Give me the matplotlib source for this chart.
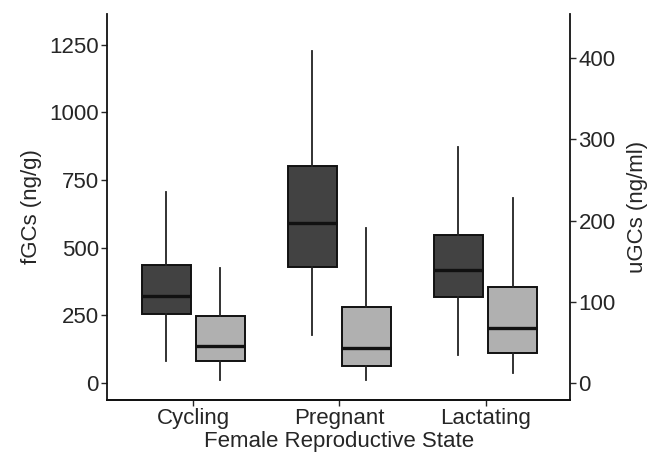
import matplotlib
matplotlib.use("Agg")
import matplotlib.pyplot as plt

plt.rcParams["font.family"] = ["Liberation Sans", "DejaVu Sans"]

categories = ["Cycling", "Pregnant", "Lactating"]

# fGCs (ng/g) - left axis: whisker low, q1, median, q3, whisker high
fgc_whislo = [81, 178, 104]
fgc_q1 = [255, 429, 318]
fgc_med = [322, 592, 418]
fgc_q3 = [436, 802, 547]
fgc_whishi = [706, 1228, 873]

# uGCs (ng/ml) - right axis
ugc_whislo = [4, 4, 12]
ugc_q1 = [27, 21, 37]
ugc_med = [46, 43, 67]
ugc_q3 = [83, 93, 118]
ugc_whishi = [142, 191, 228]

def stats(lo, q1, med, q3, hi):
    return [dict(whislo=a, q1=b, med=c, q3=d, whishi=e, fliers=[])
            for a, b, c, d, e in zip(lo, q1, med, q3, hi)]

txt = "#262626"
fs = 16
fig = plt.figure(figsize=(6.57, 4.57), dpi=100)
ax = fig.add_axes([0.163, 0.125, 0.705, 0.845])
ax2 = ax.twinx()

pos = list(range(1, len(categories) + 1))
off = 0.185
w = 0.336

def draw(a, st, positions, color):
    a.bxp(st, positions=positions, widths=w, patch_artist=True, showcaps=False,
          boxprops=dict(facecolor=color, edgecolor="#111111", linewidth=1.4),
          medianprops=dict(color="#111111", linewidth=2.4),
          whiskerprops=dict(color="#222222", linewidth=1.3),
          manage_ticks=False)

draw(ax, stats(fgc_whislo, fgc_q1, fgc_med, fgc_q3, fgc_whishi),
     [p - off for p in pos], "#424242")
draw(ax2, stats(ugc_whislo, ugc_q1, ugc_med, ugc_q3, ugc_whishi),
     [p + off for p in pos], "#b0b0b0")

ax.set_xlim(0.41, 3.58)
ax.set_ylim(-63, 1365)
ax2.set_ylim(-21, 455)
ax.set_xticks(pos)
ax.set_xticklabels(categories)
ax.set_yticks([0, 250, 500, 750, 1000, 1250])
ax2.set_yticks([0, 100, 200, 300, 400])

for a in (ax, ax2):
    a.spines["top"].set_visible(False)
    for s in a.spines.values():
        s.set_linewidth(1.3)
        s.set_color("#111111")
    a.tick_params(labelsize=fs, colors=txt, length=4, width=1.0, pad=2)
    a.patch.set_visible(False)
ax2.spines["left"].set_visible(False)
ax.spines["right"].set_visible(False)

ax.set_ylabel("fGCs (ng/g)", fontsize=fs, color=txt, labelpad=5)
ax2.set_ylabel("uGCs (ng/ml)", fontsize=fs, color=txt, labelpad=8)
ax.set_xlabel("Female Reproductive State", fontsize=fs, color=txt, labelpad=1)

fig.savefig("out.png", dpi=100)
